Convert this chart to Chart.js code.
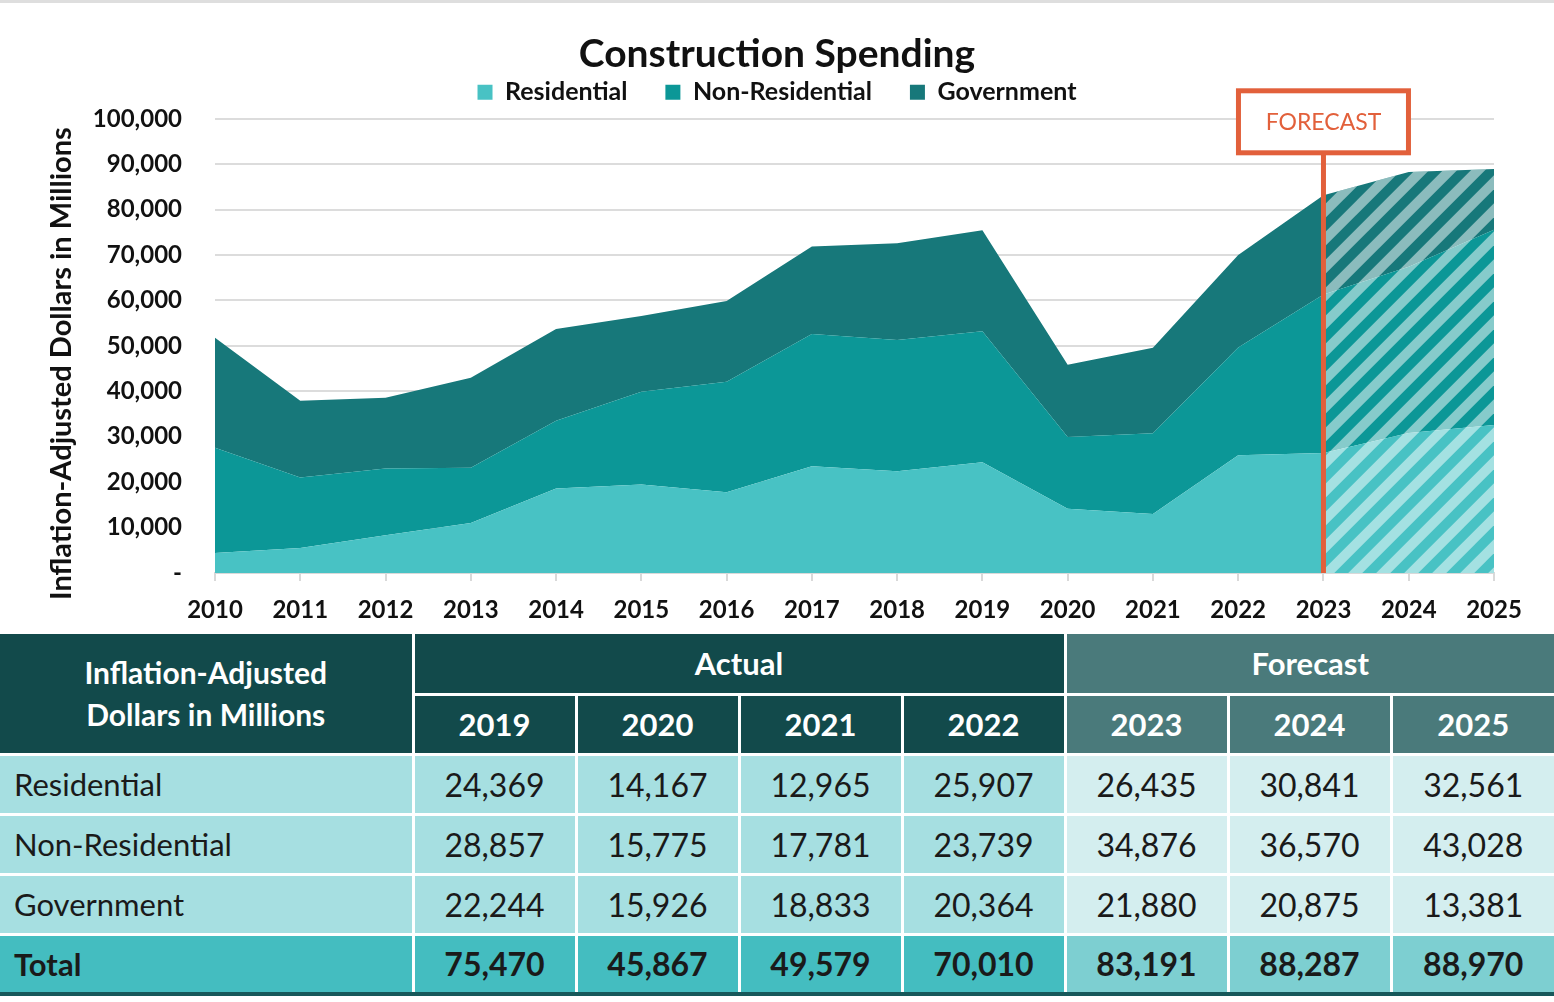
<!DOCTYPE html>
<html>
<head>
<meta charset="utf-8">
<script src="https://cdn.jsdelivr.net/npm/chart.js@4.4.1/dist/chart.umd.min.js"></script>
<style>
  body { margin: 0; background: #fff; font-family: Lato, sans-serif; }
  #wrap { width: 1554px; border-top: 3px solid #dedede; }
  #chartBox { position: relative; width: 1554px; height: 631px; }
  table { border-collapse: collapse; width: 1554px; table-layout: fixed; border-bottom: 4px solid #17585a; }
  th, td { border: 3px solid #fff; height: 60px; padding: 0; text-align: center; white-space: nowrap; box-sizing: border-box; }
  tr:first-child th { border-top: none; }
  th:first-child, td:first-child { border-left: none; }
  th:last-child, td:last-child { border-right: none; }
  th { color: #fff; font-weight: 700; font-size: 31px; }
  th.act { background: #124a4b; }
  th.fc { background: #4a7a7b; }
  th.lab { background: #124a4b; font-size: 30px; line-height: 42px; }
  td { font-size: 32px; color: #1a1a1a; }
  td.name { text-align: left; padding-left: 14px; font-size: 31px; }
  td.act, td.name { background: #a6dfe1; }
  td.fc { background: #d4eeef; }
  tr.total td { font-weight: 700; }
  tr.total td.act, tr.total td.name { background: #44bdc0; }
  tr.total td.fc { background: #7dcfd1; }
</style>
</head>
<body>
<div id="wrap">
  <div id="chartBox"><canvas id="myChart"></canvas></div>
  <table id="tbl"></table>
</div>
<script>
var years = ["2010","2011","2012","2013","2014","2015","2016","2017","2018","2019","2020","2021","2022","2023","2024","2025"];
var residential = [4400, 5500, 8300, 11000, 18600, 19500, 17800, 23500, 22400, 24369, 14167, 12965, 25907, 26435, 30841, 32561];
var nonResidential = [23200, 15500, 14700, 12200, 14900, 20400, 24300, 29100, 28900, 28857, 15775, 17781, 23739, 34876, 36570, 43028];
var government = [24200, 16900, 15600, 19800, 20200, 16700, 17800, 19300, 21300, 22244, 15926, 18833, 20364, 21880, 20875, 13381];

// table block
var tableYears = ["2019","2020","2021","2022","2023","2024","2025"];
var forecastYears = ["2023","2024","2025"];
var totals = [75470, 45867, 49579, 70010, 83191, 88287, 88970];

var forecastStart = "2023";

var fmt = function (v) { return v.toLocaleString("en-US"); };

// ---- table
(function () {
  var html = '<colgroup><col style="width:413px">';
  tableYears.forEach(function () { html += '<col>'; });
  html += '</colgroup>';
  html += '<tr><th class="lab" rowspan="2">Inflation-Adjusted<br>Dollars in Millions</th>' +
    '<th class="act" colspan="' + (tableYears.length - forecastYears.length) + '">Actual</th>' +
    '<th class="fc" colspan="' + forecastYears.length + '">Forecast</th></tr><tr>';
  tableYears.forEach(function (y) {
    html += '<th class="' + (forecastYears.indexOf(y) >= 0 ? 'fc' : 'act') + '">' + y + '</th>';
  });
  html += '</tr>';
  var rows = [["Residential", residential], ["Non-Residential", nonResidential], ["Government", government]];
  rows.forEach(function (r) {
    html += '<tr><td class="name">' + r[0] + '</td>';
    tableYears.forEach(function (y) {
      var i = years.indexOf(y);
      html += '<td class="' + (forecastYears.indexOf(y) >= 0 ? 'fc' : 'act') + '">' + fmt(r[1][i]) + '</td>';
    });
    html += '</tr>';
  });
  html += '<tr class="total"><td class="name">Total</td>';
  tableYears.forEach(function (y, k) {
    html += '<td class="' + (forecastYears.indexOf(y) >= 0 ? 'fc' : 'act') + '">' + fmt(totals[k]) + '</td>';
  });
  html += '</tr>';
  document.getElementById("tbl").innerHTML = html;
})();

// legend block height fixed so the plot starts right under it
var legendHeight = 77;
var legendFit = {
  id: 'legendFit',
  beforeInit: function (chart) {
    var lg = chart.legend;
    if (!lg) return;
    var fit = lg.fit;
    lg.fit = function () {
      fit.apply(this, arguments);
      this.height = legendHeight;
      this.bottom = this.top + legendHeight;
    };
  }
};

// hatch over forecast years + the forecast marker
var forecastPlugin = {
  id: 'forecast',
  afterDatasetsDraw: function (chart) {
    var ctx = chart.ctx;
    var area = chart.chartArea;
    var top = chart.getDatasetMeta(chart.data.datasets.length - 1).data;
    var i0 = years.indexOf(forecastStart);
    var x0 = top[i0].x;
    var x1 = top[top.length - 1].x;

    ctx.save();
    ctx.beginPath();
    ctx.moveTo(x0, area.bottom);
    for (var i = i0; i < top.length; i++) ctx.lineTo(top[i].x, top[i].y);
    ctx.lineTo(x1, area.bottom);
    ctx.closePath();
    ctx.clip();
    ctx.strokeStyle = 'rgba(255,255,255,0.5)';
    ctx.lineWidth = 10;
    var h = area.bottom - area.top;
    for (var o = x0 - h; o < x1 + 20; o += 28) {
      ctx.beginPath();
      ctx.moveTo(o, area.bottom + 10);
      ctx.lineTo(o + h + 20, area.bottom - h - 10);
      ctx.stroke();
    }
    ctx.restore();

    // marker line and box
    var boxW = 170, boxTop = area.top - 28, boxH = 62;
    ctx.save();
    ctx.strokeStyle = '#e2603b';
    ctx.lineWidth = 5;
    ctx.beginPath();
    ctx.moveTo(x0, boxTop + boxH);
    ctx.lineTo(x0, area.bottom);
    ctx.stroke();
    ctx.fillStyle = '#fff';
    ctx.fillRect(x0 - boxW / 2, boxTop, boxW, boxH);
    ctx.strokeRect(x0 - boxW / 2, boxTop, boxW, boxH);
    ctx.fillStyle = '#e2603b';
    ctx.font = '23px Lato';
    ctx.textAlign = 'center';
    ctx.textBaseline = 'middle';
    ctx.fillText('FORECAST', x0, boxTop + boxH / 2 + 1);
    ctx.restore();
  }
};

var ctx = document.getElementById("myChart").getContext('2d');
Chart.defaults.font.family = 'Lato';
Chart.defaults.color = '#111';

var myChart = new Chart(ctx, {
  type: 'line',
  data: {
    labels: years,
    datasets: [
      { label: 'Residential', data: residential, backgroundColor: '#48c2c4', borderColor: '#48c2c4', fill: 'origin' },
      { label: 'Non-Residential', data: nonResidential, backgroundColor: '#0c9797', borderColor: '#0c9797', fill: '-1' },
      { label: 'Government', data: government, backgroundColor: '#17787a', borderColor: '#17787a', fill: '-1' }
    ]
  },
  options: {
    responsive: true,
    maintainAspectRatio: false,
    animation: false,
    layout: { padding: { left: 0, right: 0, top: 0, bottom: 11 } },
    elements: {
      line: { borderWidth: 0, tension: 0 },
      point: { radius: 0 }
    },
    plugins: {
      title: {
        display: true,
        text: 'Construction Spending',
        color: '#111',
        font: { size: 39, weight: 'bold' },
        padding: { top: 28, bottom: -36 }
      },
      legend: {
        labels: {
          boxWidth: 15,
          boxHeight: 15,
          padding: 38,
          color: '#111',
          font: { size: 25, weight: 'bold' }
        }
      },
      tooltip: { enabled: false }
    },
    scales: {
      x: {
        offset: false,
        grid: { drawOnChartArea: false, drawTicks: true, tickLength: 8, color: '#d9d9d9', lineWidth: 2 },
        border: { color: '#d9d9d9', width: 2 },
        ticks: { font: { size: 24, weight: 'bold' }, color: '#111', padding: 15, maxRotation: 0 },
        afterFit: function (s) { s.height = 50; }
      },
      y: {
        stacked: true,
        min: 0,
        max: 100000,
        grid: { color: '#dcdcdc', lineWidth: 2, drawTicks: false },
        border: { display: false },
        ticks: {
          stepSize: 10000,
          padding: 33,
          color: '#111',
          font: { size: 24, weight: 'bold' },
          callback: function (v) { return v === 0 ? '-' : fmt(v); }
        },
        title: {
          display: true,
          text: 'Inflation-Adjusted Dollars in Millions     ',
          color: '#111',
          font: { size: 29, weight: 'bold' },
          padding: { top: 44, bottom: 0 }
        },
        afterFit: function (s) { s.width = 215; }
      },
      // empty strip on the right so the plot stops short of the edge
      yRight: {
        position: 'right',
        grid: { display: false },
        border: { display: false },
        ticks: { display: false },
        afterFit: function (s) { s.width = 60; }
      }
    }
  },
  plugins: [legendFit, forecastPlugin]
});
</script>
</body>
</html>
